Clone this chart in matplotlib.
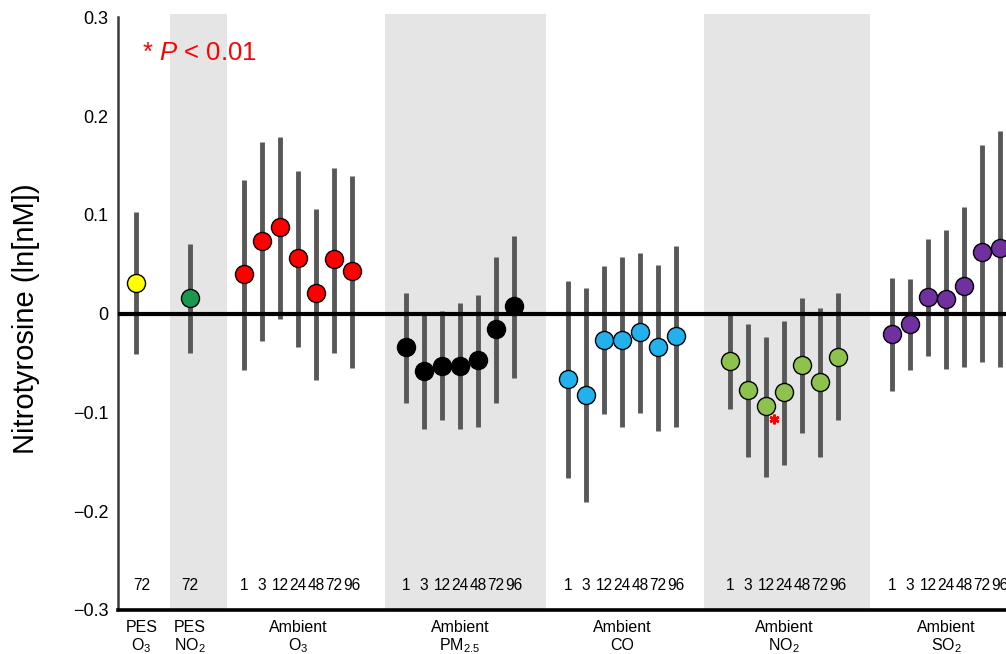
import matplotlib
matplotlib.use("Agg")
import matplotlib.pyplot as plt
from matplotlib import font_manager
import numpy as np

plt.rcParams['font.family'] = ['Liberation Sans', 'DejaVu Sans']
plt.rcParams['mathtext.fontset'] = 'custom'
plt.rcParams['mathtext.rm'] = 'Liberation Sans'
plt.rcParams['mathtext.it'] = 'Liberation Sans:italic'

# ---------------- data ----------------
group_line1 = ["PES", "PES", "Ambient", "Ambient", "Ambient", "Ambient", "Ambient"]
group_line2 = [r"O$_3$", r"NO$_2$", r"O$_3$", r"PM$_{2.5}$", "CO", r"NO$_2$", r"SO$_2$"]
group_colors = ["#ffff00", "#1a9850", "#ff0000", "#000000", "#22b1ec", "#8dc24c", "#7030a0"]

hours_pes = ["72"]
hours_amb = ["1", "3", "12", "24", "48", "72", "96"]
group_hours = [hours_pes, hours_pes, hours_amb, hours_amb, hours_amb, hours_amb, hours_amb]

means_pes_o3 = [0.031]
lower_pes_o3 = [-0.041]
upper_pes_o3 = [0.103]

means_pes_no2 = [0.016]
lower_pes_no2 = [-0.040]
upper_pes_no2 = [0.070]

means_o3 = [0.040, 0.074, 0.088, 0.056, 0.021, 0.055, 0.043]
lower_o3 = [-0.057, -0.028, -0.005, -0.034, -0.067, -0.040, -0.055]
upper_o3 = [0.135, 0.174, 0.179, 0.144, 0.106, 0.147, 0.139]

means_pm = [-0.034, -0.058, -0.053, -0.053, -0.047, -0.016, 0.008]
lower_pm = [-0.090, -0.117, -0.108, -0.117, -0.115, -0.090, -0.065]
upper_pm = [0.021, 0.000, 0.003, 0.011, 0.019, 0.057, 0.079]

means_co = [-0.066, -0.082, -0.027, -0.027, -0.019, -0.034, -0.023]
lower_co = [-0.166, -0.191, -0.102, -0.115, -0.101, -0.119, -0.115]
upper_co = [0.033, 0.026, 0.048, 0.057, 0.061, 0.049, 0.068]

means_no2 = [-0.048, -0.077, -0.094, -0.079, -0.052, -0.069, -0.044]
lower_no2 = [-0.097, -0.145, -0.165, -0.153, -0.121, -0.145, -0.108]
upper_no2 = [0.000, -0.011, -0.024, -0.007, 0.016, 0.006, 0.021]
signif_no2 = [False, False, True, False, False, False, False]

means_so2 = [-0.021, -0.010, 0.017, 0.015, 0.028, 0.062, 0.066]
lower_so2 = [-0.078, -0.057, -0.043, -0.056, -0.054, -0.049, -0.054]
upper_so2 = [0.036, 0.035, 0.076, 0.085, 0.108, 0.171, 0.185]

group_means = [means_pes_o3, means_pes_no2, means_o3, means_pm, means_co, means_no2, means_so2]
group_lower = [lower_pes_o3, lower_pes_no2, lower_o3, lower_pm, lower_co, lower_no2, lower_so2]
group_upper = [upper_pes_o3, upper_pes_no2, upper_o3, upper_pm, upper_co, upper_no2, upper_so2]
group_signif = [[False], [False], [False] * 7, [False] * 7, [False] * 7, signif_no2, [False] * 7]
shaded_groups = [1, 3, 5]

ytick_vals = [-0.3, -0.2, -0.1, 0.0, 0.1, 0.2, 0.3]
ytick_labels = ["\u22120.3", "\u22120.2", "\u22120.1", "0", "0.1", "0.2", "0.3"]

# narrow font for the hour labels if available
installed = {f.name for f in font_manager.fontManager.ttflist}
if "Liberation Sans Narrow" in installed:
    hour_font = dict(family=["Liberation Sans Narrow", "DejaVu Sans"], fontsize=12.5)
else:
    hour_font = dict(family=["Liberation Sans", "DejaVu Sans"], fontsize=11.2)

# ---------------- layout ----------------
fig = plt.figure(figsize=(10.06, 6.54), dpi=100)
ax = fig.add_axes([118 / 1006, 1 - 610 / 654, 1 - 118 / 1006, (610 - 14) / 654])
ax.set_xlim(-1.0, 48.33)
ax.set_ylim(-0.3, 0.3033)

# x positions per group
starts = [0, 3] + [6 + 9 * k for k in range(5)]
group_x = [np.arange(len(m)) + s for m, s in zip(group_means, starts)]

band_pad = {1: (1.11, 2.06), 3: (1.17, 1.78), 5: (1.44, 1.78)}
for g in shaded_groups:
    xs = group_x[g]
    lp, rp = band_pad[g]
    ax.axvspan(xs[0] - lp, xs[-1] + rp, ymin=0, ymax=1, color="#e5e5e5", lw=0, zorder=0)

# error bars
for xs, lo, hi in zip(group_x, group_lower, group_upper):
    ax.vlines(xs, lo, hi, color="#585858", lw=3.5, zorder=2)

# zero line
ax.axhline(0, color="black", lw=3.0, zorder=3)

# markers
for xs, m, c in zip(group_x, group_means, group_colors):
    ax.plot(xs, m, linestyle="none", marker="o", ms=13, mfc=c, mec="black",
            mew=1.0, zorder=4, clip_on=True)

# significance stars
for xs, m, sg in zip(group_x, group_means, group_signif):
    for xi, mi, s in zip(xs, m, sg):
        if s:
            ax.plot(xi + 0.42, mi - 0.0125, linestyle="none", marker=(6, 2, 0),
                    ms=7, mew=1.8, color="#ff0000", zorder=5)

# hour labels
for g, (xs, hrs) in enumerate(zip(group_x, group_hours)):
    off = 0.3 if g == 0 else 0.0
    for xi, h in zip(xs, hrs):
        ax.text(xi + off, -0.2797, h, ha="center", va="baseline", zorder=5, **hour_font)

# group labels below the axis
trans = ax.get_xaxis_transform()
for g, (xs, l1, l2) in enumerate(zip(group_x, group_line1, group_line2)):
    cx = (xs[0] + xs[-1]) / 2 + (0.3 if g == 0 else 0.0)
    ax.text(cx, -0.0369, l1, transform=trans, ha="center", va="baseline",
            fontsize=11.5, clip_on=False)
    ax.text(cx, -0.0675, l2, transform=trans, ha="center", va="baseline",
            fontsize=11.5, clip_on=False)

# P annotation
ax.text(0.32, 0.2637, r"* $\mathit{P}$ < 0.01", color="#ff0000", fontsize=18.5,
        ha="left", va="center", zorder=5)

# axes styling
for s in ["top", "right"]:
    ax.spines[s].set_visible(False)
ax.spines["left"].set_bounds(-0.3, 0.3)
ax.spines["left"].set_linewidth(1.8)
ax.spines["left"].set_color("#3a3a3a")
ax.spines["bottom"].set_linewidth(2.6)
ax.spines["bottom"].set_color("black")
ax.set_yticks(ytick_vals)
ax.set_yticklabels(ytick_labels)
ax.tick_params(axis="y", length=0, pad=7, labelsize=13)
ax.set_xticks([])
ax.patch.set_alpha(0)

fig.text(26 / 1006, 1 - 319 / 654, "Nitrotyrosine (ln[nM])", rotation=90,
         ha="center", va="center", fontsize=21)

fig.savefig("out.png", dpi=100)
